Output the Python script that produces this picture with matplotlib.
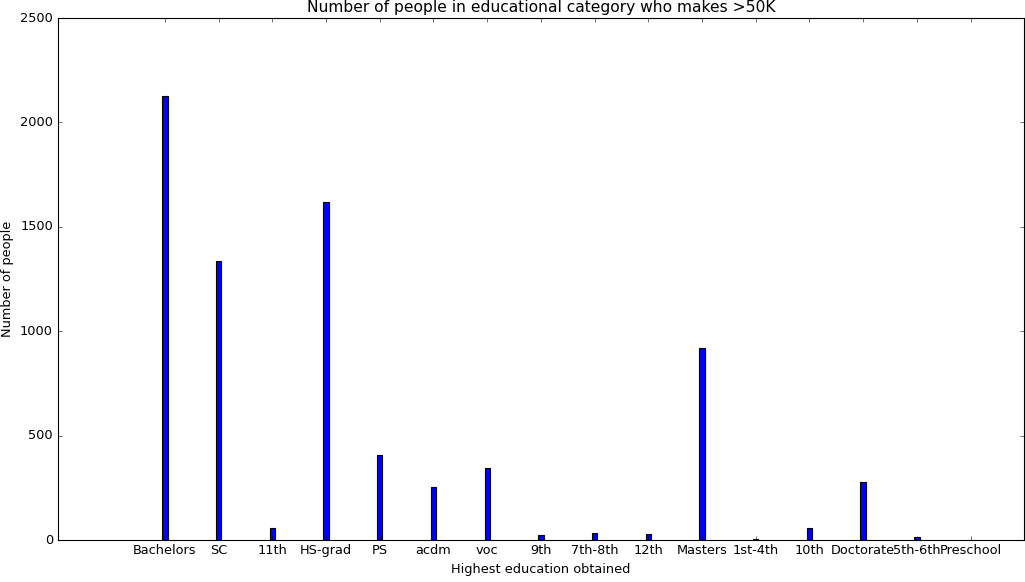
import matplotlib
matplotlib.use("Agg")
import matplotlib.pyplot as plt

plt.style.use("classic")
plt.rcParams['font.family'] = ['DejaVu Sans']

categories = ["Bachelors", "SC", "11th", "HS-grad", "PS", "acdm", "voc", "9th",
              "7th-8th", "12th", "Masters", "1st-4th", "10th", "Doctorate",
              "5th-6th", "Preschool"]
counts = [2126, 1336, 59, 1617, 406, 256, 344, 25, 35, 29, 918, 6, 59, 280, 12, 0]

fig = plt.figure(figsize=(1025 / 80, 582 / 80), dpi=80)
ax = fig.add_axes([57.5 / 1025, 42 / 582, (1024.3 - 57.5) / 1025, (540 - 18) / 582])

x = list(range(len(categories)))
ax.bar(x, counts, width=0.1, align="center", color="b", edgecolor="k", linewidth=1.0)
ax.set_xticks(x)
ax.set_xticklabels(categories)
ax.set_xlim(-2, 16)
ax.set_ylim(0, 2500)
ax.set_yticks([0, 500, 1000, 1500, 2000, 2500])
ax.tick_params(labelsize=11.6)
ax.set_title("Number of people in educational category who makes >50K", fontsize=14.0)
ax.set_xlabel("Highest education obtained", fontsize=11.6)
ax.set_ylabel("Number of people", fontsize=11.6)
ax.yaxis.set_label_coords(-0.045, 0.5)

fig.savefig("out.png", dpi=80)
